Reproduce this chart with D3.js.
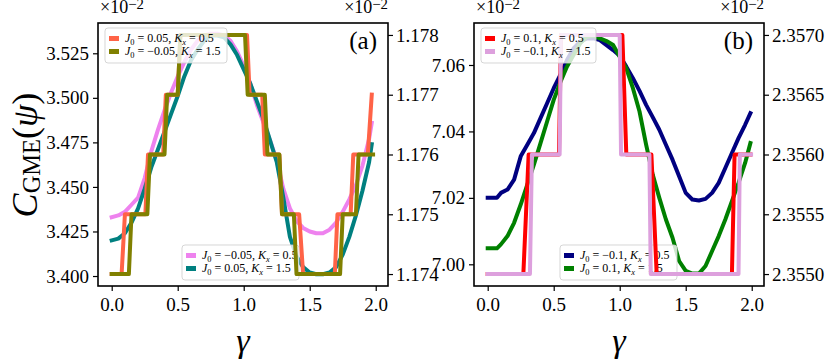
<!DOCTYPE html>
<html><head><meta charset="utf-8">
<script src="https://cdn.jsdelivr.net/npm/d3@7"></script>
<style>
body{margin:0;background:#fff}
svg text{font-family:"Liberation Serif","Times New Roman",serif !important;fill:#000}
</style>
</head><body>
<svg id="c" width="830" height="362"></svg>
<script>
// ---------- data (values shown in units of 1e-2) ----------
const xTicks = [0.0, 0.5, 1.0, 1.5, 2.0];

// Panel (a) smooth curves (left axis)
const gammaSmoothA = [0,0.05,0.10,0.15,0.20,0.25,0.30,0.35,0.40,0.45,0.50,0.55,0.60,0.65,0.70,0.75,0.80,0.85,0.90,0.95,1.00,1.05,1.10,1.15,1.20,1.25,1.30,1.35,1.40,1.45,1.50,1.55,1.60,1.65,1.70,1.75,1.80,1.85,1.90,1.95,1.97];
const violetA = [3.433,3.434,3.436,3.440,3.444,3.455,3.470,3.482,3.493,3.503,3.512,3.520,3.527,3.532,3.535,3.536,3.536,3.535,3.532,3.526,3.518,3.508,3.496,3.486,3.476,3.465,3.449,3.438,3.431,3.427,3.425,3.424,3.424,3.426,3.430,3.436,3.443,3.451,3.462,3.477,3.486];
const tealA = [3.420,3.421,3.424,3.430,3.438,3.449,3.461,3.471,3.481,3.491,3.501,3.512,3.521,3.527,3.532,3.535,3.535,3.534,3.530,3.524,3.516,3.508,3.498,3.488,3.476,3.464,3.444,3.422,3.411,3.405,3.402,3.401,3.401,3.402,3.405,3.412,3.422,3.434,3.448,3.464,3.474];

// Panel (a) step curves (right axis)
const gammaTomatoA = [0,0.075,0.10,0.255,0.275,0.39,0.41,0.50,0.52,1.025,1.045,1.14,1.16,1.27,1.29,1.42,1.45,1.69,1.71,1.81,1.83,1.94,1.97];
const tomatoA = [1.174,1.174,1.175,1.175,1.176,1.176,1.177,1.177,1.178,1.178,1.177,1.177,1.176,1.176,1.175,1.175,1.174,1.174,1.175,1.175,1.176,1.176,1.177];
const gammaOliveA = [0,0.13,0.15,0.27,0.29,0.40,0.42,0.50,0.52,1.01,1.03,1.16,1.18,1.27,1.29,1.38,1.40,1.73,1.75,1.85,1.87,1.98];
const oliveA = [1.174,1.174,1.175,1.175,1.176,1.176,1.177,1.177,1.178,1.178,1.177,1.177,1.176,1.176,1.175,1.175,1.174,1.174,1.175,1.175,1.176,1.176];

// Panel (b) smooth curves (left axis)
const gammaSmoothB = [0,0.05,0.07,0.10,0.15,0.20,0.25,0.30,0.35,0.40,0.45,0.50,0.55,0.60,0.65,0.70,0.75,0.80,0.85,0.90,0.95,1.00,1.05,1.10,1.15,1.20,1.25,1.30,1.35,1.40,1.45,1.50,1.55,1.60,1.65,1.70,1.75,1.80,1.85,1.90,1.95,1.99];
const navyB = [7.020,7.020,7.020,7.0215,7.0225,7.0255,7.0325,7.036,7.0395,7.044,7.0485,7.053,7.057,7.0614,7.065,7.067,7.068,7.068,7.0675,7.066,7.0645,7.0628,7.0595,7.056,7.0522,7.048,7.0443,7.0405,7.036,7.0315,7.0265,7.0215,7.0195,7.0192,7.0197,7.0215,7.0245,7.029,7.0335,7.038,7.042,7.0455];
const greenB = [7.0048,7.0048,7.0048,7.006,7.0085,7.0125,7.018,7.024,7.030,7.0365,7.043,7.0495,7.0548,7.0595,7.063,7.0665,7.0685,7.0688,7.068,7.0672,7.066,7.0625,7.059,7.053,7.046,7.036,7.027,7.020,7.0135,7.008,7.001,6.998,6.9972,6.9972,6.9995,7.004,7.0085,7.0135,7.019,7.0245,7.0305,7.0365];

// Panel (b) step curves (right axis)
const gammaRedB = [0,0.27,0.31,0.54,0.555,1.02,1.05,1.24,1.28,1.85,1.87,1.99];
const redB = [2.3550,2.3550,2.3560,2.3560,2.3570,2.3570,2.3560,2.3560,2.3550,2.3550,2.3560,2.3560];
const gammaPlumB = [0,0.32,0.335,0.545,0.555,1.0,1.01,1.225,1.235,1.90,1.91,1.995];
const plumB = [2.3550,2.3550,2.3560,2.3560,2.3570,2.3570,2.3560,2.3560,2.3550,2.3550,2.3560,2.3560];

const ticksLeftA = [3.400,3.425,3.450,3.475,3.500,3.525];
const ticksRightA = [1.174,1.175,1.176,1.177,1.178];
const ticksLeftB = [7.00,7.02,7.04,7.06];
const ticksRightB = [2.3550,2.3555,2.3560,2.3565,2.3570];

// ---------- drawing ----------
const svg = d3.select('#c');
const FS = 19;
const SERIF = '"Liberation Serif","Times New Roman",serif';

function rich(sel, parts, fs){
  let cur = 0;
  parts.forEach(p=>{
    const off = p.sub ? fs*(p.shift||0.25) : (p.sup ? -fs*(p.shift||0.42) : 0);
    const ts = sel.append('tspan').text(p.t).attr('dy', (off-cur).toFixed(2));
    cur = off;
    if(p.sub || p.sup) ts.attr('font-size', (fs*(p.scale||0.7)).toFixed(2));
    if(p.i) ts.attr('font-style','italic');
  });
}
const NB = '\u00A0';
function legText(j, k){
  return [{t:'J',i:true},{t:'0',sub:true},{t:NB+'='+NB+j+','+NB},{t:'K',i:true},{t:'x',sub:true,i:true},{t:NB+'='+NB+k}];
}

function legend(g, x0, y0, w, entries){
  const h = 35;
  g.append('rect').attr('x',x0).attr('y',y0).attr('width',w).attr('height',h)
    .attr('rx',3).attr('fill','white').attr('fill-opacity',0.8)
    .attr('stroke','#cccccc').attr('stroke-opacity',0.8).attr('stroke-width',1);
  entries.forEach((e,i)=>{
    const yc = y0 + 10.5 + i*13;
    g.append('line').attr('x1',x0+4).attr('x2',x0+14).attr('y1',yc).attr('y2',yc)
      .attr('stroke',e.color).attr('stroke-width',5);
    const t = g.append('text').attr('x',x0+20).attr('y',yc+3.5).attr('font-size',12);
    rich(t, e.label, 12);
  });
}

function panel(cfg){
  const x0 = cfg.x0, x1 = x0+290, yT = 23, yB = 286;
  const g = svg.append('g');
  const x = d3.scaleLinear().domain([-0.1038, 2.093]).range([x0, x1]);
  const yL = d3.scaleLinear().domain(cfg.lDom).range([yB, yT]);
  const yR = d3.scaleLinear().domain(cfg.rDom).range([yB, yT]);
  const lineL = d3.line().x(d=>x(d[0])).y(d=>yL(d[1]));
  const lineR = d3.line().x(d=>x(d[0])).y(d=>yR(d[1]));
  const draw = (gen, xs, ys, color) => g.append('path')
      .attr('d', gen(xs.map((v,i)=>[v, ys[i]])))
      .attr('fill','none').attr('stroke',color).attr('stroke-width',4)
      .attr('stroke-linejoin','round').attr('stroke-linecap','square');
  cfg.left.forEach(s=>draw(lineL, s.x, s.y, s.color));
  legend(g, cfg.lowLegX, 245, 117, cfg.left);
  cfg.right.forEach(s=>draw(lineR, s.x, s.y, s.color));
  legend(g, x0+7, 28, cfg.upLegW, cfg.right);

  // axes
  const ax = g.append('g').attr('transform',`translate(0,${yB})`)
    .call(d3.axisBottom(x).tickValues(xTicks).tickFormat(d3.format('.1f')).tickSize(5).tickPadding(7));
  const al = g.append('g').attr('transform',`translate(${x0},0)`)
    .call(d3.axisLeft(yL).tickValues(cfg.lTicks).tickFormat(d3.format(cfg.lFmt)).tickSize(5).tickPadding(4));
  const ar = g.append('g').attr('transform',`translate(${x1},0)`)
    .call(d3.axisRight(yR).tickValues(cfg.rTicks).tickFormat(d3.format(cfg.rFmt)).tickSize(5).tickPadding(3));
  [ax,al,ar].forEach(a=>{
    a.attr('font-family', SERIF).attr('font-size', FS);
    a.select('.domain').remove();
    a.selectAll('.tick line').attr('stroke','#000').attr('stroke-width',1.2);
    a.selectAll('.tick text').attr('font-size',FS).style('font-family',SERIF).attr('fill','#000');
  });
  g.append('rect').attr('x',x0).attr('y',yT).attr('width',290).attr('height',yB-yT)
    .attr('fill','none').attr('stroke','#000').attr('stroke-width',1.6);

  // offset texts
  const offParts = [{t:'\u00D710'},{t:'\u22122',sup:true,scale:0.82,shift:0.17}];
  const o1 = g.append('text').attr('x',x0+2).attr('y',12.5).attr('font-size',18);
  rich(o1, offParts, 18);
  const o2 = g.append('text').attr('x',x1).attr('y',12.5).attr('font-size',18).attr('text-anchor','end');
  rich(o2, offParts, 18);

  // panel label
  g.append('text').attr('x',x1-11).attr('y',49).attr('text-anchor','end').attr('font-size',25).text(cfg.tag);

  // x label
  g.append('text').attr('x',(x0+x1)/2).attr('y',352).attr('text-anchor','middle')
    .attr('font-size',34).attr('font-style','italic').text('\u03B3');
}

panel({
  x0: 98, tag:'(a)',
  lDom:[3.3944, 3.5420], rDom:[1.1738, 1.1782],
  lTicks: ticksLeftA, rTicks: ticksRightA, lFmt:'.3f', rFmt:'.3f',
  lowLegX: 182, upLegW: 122,
  left:[{x:gammaSmoothA,y:violetA,color:'violet',label:legText('\u22120.05','0.5')},
        {x:gammaSmoothA,y:tealA,color:'teal',label:legText('0.05','1.5')}],
  right:[{x:gammaTomatoA,y:tomatoA,color:'tomato',label:legText('0.05','0.5')},
         {x:gammaOliveA,y:oliveA,color:'olive',label:legText('\u22120.05','1.5')}]
});
panel({
  x0: 474, tag:'(b)',
  lDom:[6.99347, 7.07264], rDom:[2.3549, 2.3571],
  lTicks: ticksLeftB, rTicks: ticksRightB, lFmt:'.2f', rFmt:'.4f',
  lowLegX: 560, upLegW: 115,
  left:[{x:gammaSmoothB,y:navyB,color:'navy',label:legText('\u22120.1','0.5')},
        {x:gammaSmoothB,y:greenB,color:'green',label:legText('0.1','1.5')}],
  right:[{x:gammaRedB,y:redB,color:'red',label:legText('0.1','0.5')},
         {x:gammaPlumB,y:plumB,color:'plum',label:legText('\u22120.1','1.5')}]
});

// y label
const yl = svg.append('text').attr('transform','translate(37,155) rotate(-90)')
  .attr('text-anchor','middle').attr('font-size',36);
rich(yl, [{t:'C',i:true},{t:'GME',sub:true,scale:0.68,shift:0.08},{t:'('},{t:'\u03C8',i:true},{t:')'}], 36);
</script>
</body></html>
